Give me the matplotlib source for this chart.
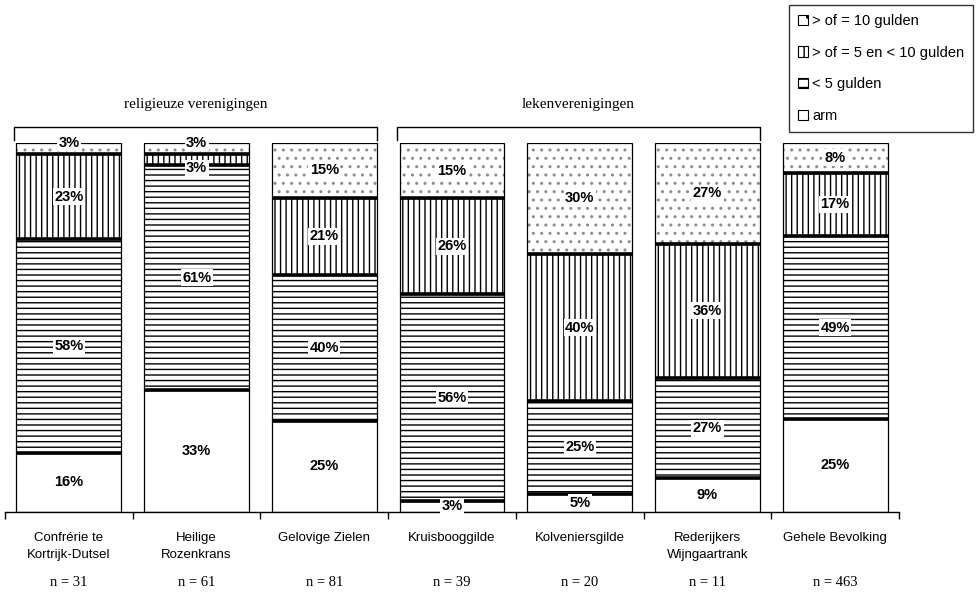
import numpy as np
import matplotlib.pyplot as plt
from matplotlib.patches import Patch

# categorieen en waarden (arm, < 5, 5-10, >= 10 gulden)
groepen = ["Confrérie te\nKortrijk-Dutsel", "Heilige\nRozenkrans", "Gelovige Zielen",
           "Kruisbooggilde", "Kolveniersgilde", "Rederijkers\nWijngaartrank",
           "Gehele Bevolking"]
aantallen = [31, 61, 81, 39, 20, 11, 463]
arm = [16, 33, 25, 3, 5, 9, 25]
onder5 = [58, 61, 40, 56, 25, 27, 49]
tussen5_10 = [23, 3, 21, 26, 40, 36, 17]
boven10 = [3, 3, 15, 15, 30, 27, 8]

legende = ["> of = 10 gulden", "> of = 5 en < 10 gulden", "< 5 gulden", "arm"]

plt.rcParams["hatch.linewidth"] = 1.0

fig = plt.figure(figsize=(9.76, 5.94), dpi=100)
ax = fig.add_axes([5 / 976, 82 / 594, 894 / 976, 369 / 594])

series = [arm, onder5, tussen5_10, boven10]
hatches = ["", "---", "|||", ".."]
x = np.arange(len(groepen))
data = np.array(series, dtype=float)
totaal = data.sum(axis=0)
schaal = 100.0 / totaal
breedte = 0.82

onder = np.zeros(len(groepen))
for k, (waarden, h) in enumerate(zip(data, hatches)):
    hoogte = waarden * schaal
    if h == "..":
        # stippen in grijs, rand apart in zwart
        ax.bar(x, hoogte, breedte, bottom=onder, color="white", edgecolor="0.55",
               linewidth=0, hatch=h)
        ax.bar(x, hoogte, breedte, bottom=onder, color="none", edgecolor="black",
               linewidth=0.9)
    else:
        ax.bar(x, hoogte, breedte, bottom=onder, color="white", edgecolor="black",
               linewidth=0.9, hatch=h)
    for i in range(len(groepen)):
        ypos = onder[i] + hoogte[i] / 2
        if waarden[i] < 4 and k == len(series) - 1:
            ypos = onder[i] + hoogte[i]   # kleine bovenste waarde op de rand
        elif waarden[i] < 4 and k > 0:
            ypos = onder[i] - 0.8         # kleine middelste waarde iets lager
        ax.text(x[i], ypos, f"{int(waarden[i])}%",
                ha="center", va="center", fontsize=10.5, fontweight="bold",
                family="Liberation Sans", zorder=5,
                bbox=dict(facecolor="white", edgecolor="none", pad=1.0))
    onder = onder + hoogte
    # dikke scheidingslijn tussen segmenten
    if h != "..":
        for i in range(len(groepen)):
            ax.plot([x[i] - breedte / 2, x[i] + breedte / 2], [onder[i], onder[i]],
                    color="black", linewidth=2.6, solid_capstyle="butt", zorder=3)

ax.set_xlim(-0.5, len(groepen) - 0.5)
ax.set_ylim(0, 100)
for s in ["top", "right", "left"]:
    ax.spines[s].set_visible(False)
ax.spines["bottom"].set_linewidth(1.0)
ax.set_yticks([])
ax.set_xticks(np.arange(len(groepen) + 1) - 0.5)
ax.set_xticklabels([])
ax.tick_params(axis="x", direction="out", length=5, width=1.0)

for i, naam in enumerate(groepen):
    ax.text(x[i], -5.3, naam, ha="center", va="top", fontsize=9.5,
            family="Liberation Sans", linespacing=1.65, clip_on=False)
    ax.text(x[i], -19.2, f"n = {aantallen[i]}", ha="center", va="center",
            fontsize=10.5, family="Liberation Serif", clip_on=False)

# haken boven de groepen
for (a, b), titel in [((0, 2), "religieuze verenigingen"), ((3, 5), "lekenverenigingen")]:
    xl = a - breedte / 2 - 0.02
    xr = b + breedte / 2
    ax.plot([xl, xl, xr, xr], [100.8, 104.3, 104.3, 100.8], color="black",
            linewidth=1.0, clip_on=False)
    ax.text((xl + xr) / 2, 110.3, titel, ha="center", va="center", fontsize=11,
            family="Liberation Serif", clip_on=False)

handles = [Patch(facecolor="white", edgecolor="black", hatch=h, linewidth=0.8)
           for h in [".", "||", "--", ""]]
leg = fig.legend(handles, legende, loc="upper right",
                 bbox_to_anchor=(973 / 976, 1 - 5 / 594), borderaxespad=0,
                 frameon=True, fancybox=False, handlelength=0.7, handleheight=0.7,
                 handletextpad=0.3, labelspacing=1.22, borderpad=0.6,
                 prop={"family": "Liberation Sans", "size": 10.5})
leg.get_frame().set_edgecolor("black")
leg.get_frame().set_linewidth(1.0)

fig.savefig("out.png", dpi=100)
